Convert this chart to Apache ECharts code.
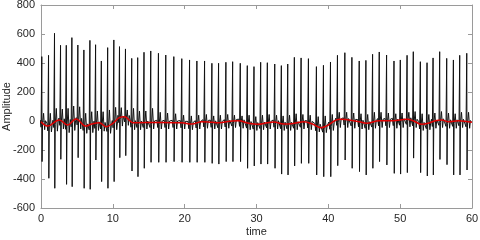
<!DOCTYPE html>
<html><head><meta charset="utf-8">
<script src="https://cdn.jsdelivr.net/npm/echarts@6/dist/echarts.min.js"></script>
<style>html,body{margin:0;padding:0;background:#fff}#c{width:480px;height:240px}</style>
</head><body><div id="c"></div>
<script>
const xTicks = [0, 10, 20, 30, 40, 50, 60];
const yTicks = [-600, -400, -200, 0, 200, 400, 600, 800];

const beatTime = [0.11,1.05,1.88,2.72,3.52,4.30,5.13,5.97,6.81,7.60,8.40,9.28,10.14,10.93,11.76,12.63,13.46,14.34,15.28,16.35,17.37,18.49,19.60,20.68,21.70,22.77,23.79,24.72,25.74,26.68,27.74,28.72,29.65,30.58,31.51,32.54,33.46,34.35,35.27,36.21,37.23,38.34,39.32,40.30,41.27,42.30,43.28,44.30,45.23,46.16,47.09,48.11,49.14,50.02,50.96,51.83,52.81,53.74,54.58,55.50,56.48,57.41,58.29,59.27];
const rPeak = [444,453,605,522,522,575,524,490,556,526,414,506,559,513,497,432,437,474,483,467,455,444,430,421,414,414,398,398,405,409,398,382,375,405,402,393,382,393,439,435,430,375,384,407,453,471,439,414,418,460,476,455,414,421,453,478,409,402,435,478,432,421,453,467];
const sTrough = [-280,-395,-464,-264,-437,-453,-253,-464,-471,-269,-418,-464,-418,-253,-239,-345,-384,-326,-285,-285,-285,-280,-285,-285,-285,-285,-292,-297,-280,-280,-280,-326,-310,-297,-297,-326,-366,-372,-310,-292,-292,-372,-384,-384,-308,-269,-326,-349,-372,-326,-280,-303,-361,-366,-356,-256,-356,-379,-372,-265,-301,-372,-372,-338];
const baseLevel = [-8,-33,-10,5,-22,-5,8,-30,-26,-16,-20,-37,-12,24,28,-8,-10,-10,-10,-10,-10,-10,-12,-18,-13,-6,-9,-12,-6,0,-2,-14,-21,-17,-12,-8,-18,-19,-15,-8,-13,-32,-42,-22,5,7,1,-5,-15,-7,2,2,3,6,12,2,-20,-18,-3,5,-2,-2,2,-5];
const tWave = [53,53,87,82,87,103,98,53,64,69,64,76,94,92,76,87,69,69,87,60,55,50,40,35,40,45,35,40,45,40,35,40,30,40,45,40,35,40,50,45,40,30,35,45,60,60,55,50,45,60,60,55,50,55,60,65,50,45,55,65,55,50,60,60];
const dWave = [-60,-75,-70,-55,-80,-65,-55,-85,-80,-65,-70,-85,-60,-35,-30,-60,-60,-55,-55,-55,-55,-55,-55,-60,-55,-50,-55,-55,-50,-45,-50,-60,-65,-60,-55,-55,-65,-65,-60,-55,-60,-75,-80,-65,-45,-45,-50,-55,-60,-50,-45,-45,-50,-45,-40,-45,-65,-60,-50,-45,-50,-50,-45,-50];

const redTime = [0,0.91,2.54,3.70,4.86,6.26,6.95,8.12,9.05,10.0,10.95,11.65,12.35,12.8,16.8,19.6,21.0,22.4,23.8,24.7,26.6,27.5,28.9,30.2,31.5,32.4,33.8,35.2,36.6,37.8,39.0,39.7,41.6,44.3,45.3,47.1,49.0,50.9,51.8,53.0,53.9,54.9,55.8,56.7,58.1,60];
const redValue = [-5,-35,7,-28,14,-35,-23,-12,-39,-16,25,30,2,-12,-10,-12,-21,-5,-9,-12,0,2,-16,-23,-12,-7,-21,-16,-5,-21,-46,-35,12,-5,-16,2,2,12,2,-23,-16,2,7,-5,2,-9];

const black = [];
for (let i = 0; i < beatTime.length; i++) {
  const t = beatTime[i], b = baseLevel[i];
  black.push([t - 0.22, b + 15], [t - 0.1, b - 35], [t, rPeak[i]], [t + 0.04, sTrough[i]],
             [t + 0.1, b - 15], [t + 0.25, tWave[i]], [t + 0.4, dWave[i]], [t + 0.52, b + 10]);
}
const red = redTime.map((t, i) => [t, redValue[i]]);

const txt = {fontFamily: 'Liberation Sans, Arial, sans-serif', fontSize: 11, color: '#262626'};
const lineC = '#9a9a9a';
function ax(extra) {
  return Object.assign({
    type: 'value',
    axisLine: {show: true, onZero: false, lineStyle: {color: lineC, width: 1}},
    axisTick: {show: true, inside: true, length: 4, lineStyle: {color: lineC}},
    splitLine: {show: false}
  }, extra);
}
const chart = echarts.init(document.getElementById('c'), null, {renderer: 'canvas'});
chart.setOption({
  animation: false,
  backgroundColor: '#fff',
  grid: {left: 41, right: 8, top: 5, bottom: 32, containLabel: false, outerBoundsMode: 'none'},
  xAxis: [
    ax({min: xTicks[0], max: xTicks[xTicks.length - 1], interval: xTicks[1] - xTicks[0],
        name: 'time', nameLocation: 'middle', nameGap: 18, nameTextStyle: txt, nameMoveOverlap: false,
        axisLabel: Object.assign({margin: 5}, txt)}),
    ax({position: 'top', min: xTicks[0], max: xTicks[xTicks.length - 1], interval: xTicks[1] - xTicks[0],
        axisLabel: {show: false}})
  ],
  yAxis: [
    ax({min: yTicks[0], max: yTicks[yTicks.length - 1], interval: yTicks[1] - yTicks[0],
        name: 'Amplitude', nameLocation: 'middle', nameGap: 29, nameTextStyle: txt, nameMoveOverlap: false,
        axisLabel: Object.assign({margin: 6}, txt)}),
    ax({position: 'right', min: yTicks[0], max: yTicks[yTicks.length - 1], interval: yTicks[1] - yTicks[0],
        axisLabel: {show: false}})
  ],
  series: [
    {type: 'line', data: black, showSymbol: false, symbol: 'none', clip: true,
     lineStyle: {color: '#111', width: 1}},
    {type: 'line', data: red, showSymbol: false, symbol: 'none', smooth: 0.4, clip: true,
     lineStyle: {color: '#e00000', width: 1.5}}
  ]
});
</script></body></html>
